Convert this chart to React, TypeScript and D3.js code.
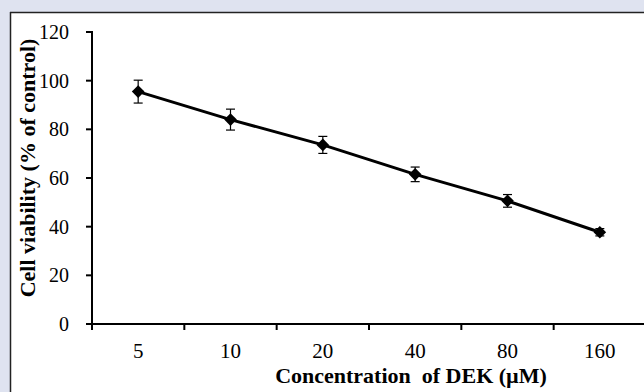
import { useMemo } from 'react'
import * as d3 from 'd3'

const W = 644
const H = 392

const concentrations = ['5', '10', '20', '40', '80', '160']
const viability = [95.5, 84.0, 73.6, 61.5, 50.6, 37.7]
const errors = [4.7, 4.3, 3.5, 3.0, 2.6, 1.5]
const yTicks = [0, 20, 40, 60, 80, 100, 120]

const PLOT = { left: 92, right: 646, top: 32, bottom: 324 }
const FONT = '"Liberation Serif", "Times New Roman", serif'

export default function App() {
  const x = useMemo(
    () => d3.scaleBand<string>().domain(concentrations).range([PLOT.left, PLOT.right]).padding(0),
    []
  )
  const y = useMemo(() => d3.scaleLinear().domain([0, 120]).range([PLOT.bottom, PLOT.top]), [])

  const points = concentrations.map((c, i) => ({
    c,
    v: viability[i],
    e: errors[i],
    cx: (x(c) ?? 0) + x.bandwidth() / 2,
  }))

  const line = d3
    .line<(typeof points)[number]>()
    .x(d => d.cx)
    .y(d => y(d.v))

  const marker = d3.symbol(d3.symbolSquare, 80)()

  // band edges for the x ticks
  const xTickPos = concentrations.map(c => x(c) ?? 0).concat([PLOT.right])

  return (
    <div style={{ position: 'absolute', left: 0, top: 0 }}>
      <svg width={W} height={H} style={{ display: 'block' }}>
        <rect x={0} y={0} width={W} height={H} fill="#dfe3f0" />
        <rect x={10} y={12} width={W} height={H} fill="#ffffff" />
        <line x1={10} x2={W} y1={12.5} y2={12.5} stroke="#222" strokeWidth={1.5} />
        <line x1={10.5} x2={10.5} y1={12} y2={H} stroke="#222" strokeWidth={1.5} />

        {/* y axis */}
        <line x1={PLOT.left} x2={PLOT.left} y1={y(120) - 1} y2={PLOT.bottom + 1} stroke="#000" strokeWidth={2} />
        {yTicks.map(t => (
          <g key={`y-${t}`}>
            <line x1={PLOT.left - 6} x2={PLOT.left} y1={y(t)} y2={y(t)} stroke="#000" strokeWidth={2} />
            <text
              x={69}
              y={y(t)}
              dy="0.35em"
              textAnchor="end"
              fontFamily={FONT}
              fontSize={20}
              fill="#000"
            >
              {t}
            </text>
          </g>
        ))}

        {/* x axis */}
        <line x1={PLOT.left - 6} x2={PLOT.right} y1={PLOT.bottom} y2={PLOT.bottom} stroke="#000" strokeWidth={2} />
        {xTickPos.map((p, i) => (
          <line key={`xt-${i}`} x1={p} x2={p} y1={PLOT.bottom} y2={PLOT.bottom + 6} stroke="#000" strokeWidth={2} />
        ))}
        {points.map(d => (
          <text
            key={`xl-${d.c}`}
            x={d.cx}
            y={358}
            textAnchor="middle"
            fontFamily={FONT}
            fontSize={21}
            fill="#000"
          >
            {d.c}
          </text>
        ))}

        {/* axis titles */}
        <text
          x={411}
          y={383}
          textAnchor="middle"
          fontFamily={FONT}
          fontSize={22}
          fontWeight="bold"
          fill="#000"
          style={{ whiteSpace: 'pre' }}
        >
          {'Concentration  of DEK (µM)'}
        </text>
        <text
          transform={`translate(35, 168) rotate(-90)`}
          textAnchor="middle"
          fontFamily={FONT}
          fontSize={22}
          fontWeight="bold"
          fill="#000"
        >
          Cell viability (% of control)
        </text>

        {/* line */}
        <path d={line(points) ?? ''} fill="none" stroke="#000" strokeWidth={3} />

        {/* error bars */}
        {points.map(d => (
          <g key={`err-${d.c}`} stroke="#000" strokeWidth={1.2}>
            <line x1={d.cx} x2={d.cx} y1={y(d.v + d.e)} y2={y(d.v - d.e)} />
            <line x1={d.cx - 4.5} x2={d.cx + 4.5} y1={y(d.v + d.e)} y2={y(d.v + d.e)} />
            <line x1={d.cx - 4.5} x2={d.cx + 4.5} y1={y(d.v - d.e)} y2={y(d.v - d.e)} />
          </g>
        ))}

        {/* markers */}
        {points.map(d => (
          <path
            key={`m-${d.c}`}
            d={marker ?? ''}
            transform={`translate(${d.cx}, ${y(d.v)}) rotate(45)`}
            fill="#000"
          />
        ))}
      </svg>
    </div>
  )
}
